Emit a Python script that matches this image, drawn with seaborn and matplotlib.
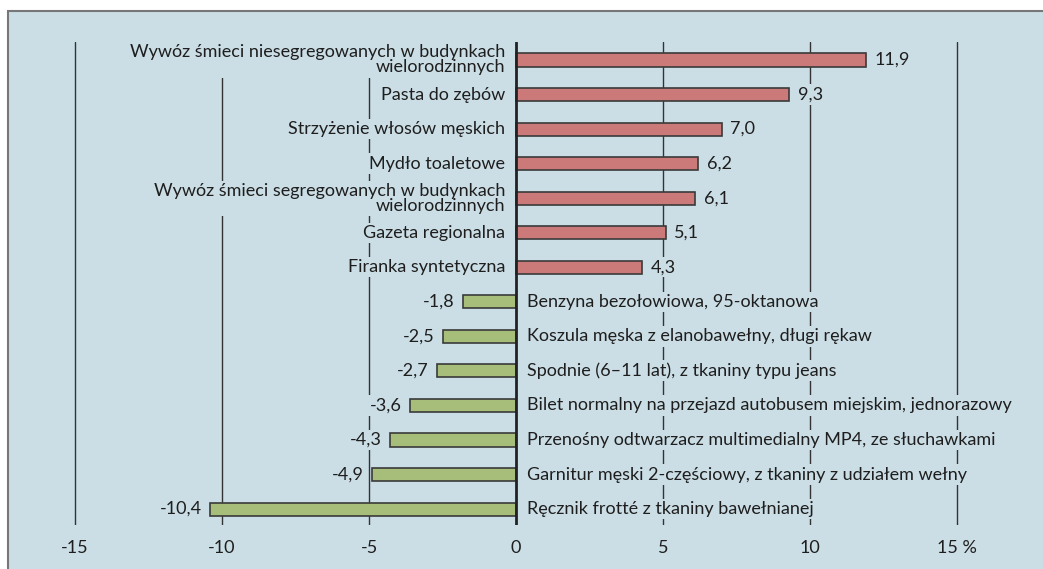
import pandas as pd
import matplotlib
matplotlib.use("Agg")
import matplotlib.pyplot as plt
import seaborn as sns
from matplotlib.patches import Rectangle

# data
labels = [
    "Wywóz śmieci niesegregowanych w budynkach\nwielorodzinnych",
    "Pasta do zębów",
    "Strzyżenie włosów męskich",
    "Mydło toaletowe",
    "Wywóz śmieci segregowanych w budynkach\nwielorodzinnych",
    "Gazeta regionalna",
    "Firanka syntetyczna",
    "Benzyna bezołowiowa, 95-oktanowa",
    "Koszula męska z elanobawełny, długi rękaw",
    "Spodnie (6–11 lat), z tkaniny typu jeans",
    "Bilet normalny na przejazd autobusem miejskim, jednorazowy",
    "Przenośny odtwarzacz multimedialny MP4, ze słuchawkami",
    "Garnitur męski 2-częściowy, z tkaniny z udziałem wełny",
    "Ręcznik frotté z tkaniny bawełnianej",
]
values = [11.9, 9.3, 7.0, 6.2, 6.1, 5.1, 4.3, -1.8, -2.5, -2.7, -3.6, -4.3, -4.9, -10.4]
x_ticks = [-15, -10, -5, 0, 5, 10, 15]
x_tick_labels = ["-15", "-10", "-5", "0", "5", "10", "15 %"]

bg = "#cbdee5"
red = "#d96b6b"
green = "#a9c96f"
txt = "#1e1e1e"

df = pd.DataFrame({"label": labels, "value": values})
df["sign"] = ["pos" if v > 0 else "neg" for v in df["value"]]

sns.set_style("white")
plt.rcParams["font.family"] = ["Lato", "DejaVu Sans"]

fig = plt.figure(figsize=(10.43, 5.69), dpi=100)
fig.patch.set_facecolor("white")
frame = Rectangle((8 / 1043, -0.1), 1.1, (569 - 11) / 569 + 0.1,
                  transform=fig.transFigure, facecolor=bg,
                  edgecolor="#777777", linewidth=1.5, zorder=-10)
fig.patches.append(frame)

ax = fig.add_axes([30.9 / 1043, 44 / 569, 999.6 / 1043, 483 / 569])
ax.set_facecolor("none")
ax.set_zorder(1)

sns.barplot(data=df, x="value", y="label", hue="sign", orient="h",
            palette={"pos": red, "neg": green}, dodge=False, width=0.38,
            edgecolor="#3a3a3a", linewidth=1.2, legend=False, ax=ax, zorder=2)

ax.set_xlim(-16.5, 17.5)
ax.set_ylim(13.46, -0.52)

for t in [-15, -10, -5, 5, 10, 15]:
    ax.axvline(t, color="#333333", linewidth=1.0, zorder=0)
ax.axvline(0, color="#222222", linewidth=2.0, zorder=4)

fs = 13
for i, (lab, v) in enumerate(zip(labels, values)):
    box = dict(facecolor=bg, edgecolor="none", pad=1.5)
    if v > 0:
        ax.text(-0.37, i, lab, ha="right", va="center", fontsize=fs, color=txt,
                bbox=box, zorder=3, linespacing=0.92)
        ax.text(v + 0.28, i, f"{v:.1f}".replace(".", ","), ha="left", va="center",
                fontsize=fs, color=txt, bbox=box, zorder=3)
    else:
        ax.text(0.37, i, lab, ha="left", va="center", fontsize=fs, color=txt,
                bbox=box, zorder=3)
        ax.text(v - 0.28, i, f"{v:.1f}".replace(".", ","), ha="right", va="center",
                fontsize=fs, color=txt, bbox=box, zorder=3)

ax.set_xticks(x_ticks)
ax.set_xticklabels(x_tick_labels, fontsize=fs, color=txt)
ax.tick_params(axis="x", length=0, pad=11)
ax.set_yticks([])
ax.set_xlabel("")
ax.set_ylabel("")
for s in ax.spines.values():
    s.set_visible(False)

fig.savefig("out.png", dpi=100, facecolor="white")
